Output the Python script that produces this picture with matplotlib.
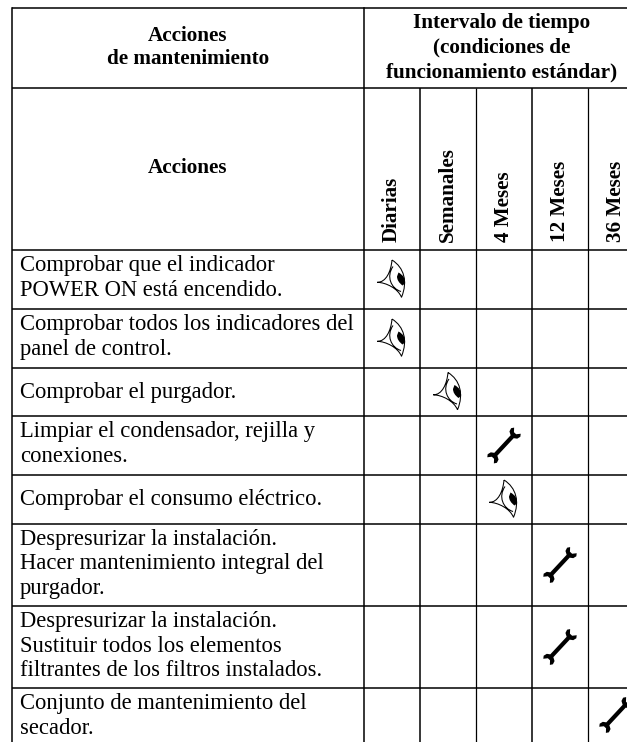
import matplotlib
matplotlib.use("Agg")
import matplotlib.pyplot as plt
from matplotlib.path import Path
from matplotlib.patches import PathPatch
from matplotlib.transforms import Affine2D

header_left = ["Acciones", "de mantenimiento"]
header_right = ["Intervalo de tiempo", "(condiciones de", "funcionamiento estándar)"]
subheader = "Acciones"
intervals = ["Diarias", "Semanales", "4 Meses", "12 Meses", "36 Meses"]
actions = [
    ["Comprobar que el indicador", "POWER ON está encendido."],
    ["Comprobar todos los indicadores del", "panel de control."],
    ["Comprobar el purgador."],
    ["Limpiar el condensador, rejilla y", "conexiones."],
    ["Comprobar el consumo eléctrico."],
    ["Despresurizar la instalación.", "Hacer mantenimiento integral del", "purgador."],
    ["Despresurizar la instalación.", "Sustituir todos los elementos", "filtrantes de los filtros instalados."],
    ["Conjunto de mantenimiento del", "secador."],
]
action_interval = [0, 0, 1, 2, 2, 3, 3, 4]
action_icon = ["eye", "eye", "eye", "wrench", "eye", "wrench", "wrench", "wrench"]

W, H = 627, 742
col_x = [364, 420, 476, 532, 588]
col_w = 56
left_x = 12
row_y = [8, 88, 250, 309, 368, 416, 475, 524, 606, 688]
bottom = 742

fig = plt.figure(figsize=(W / 100, H / 100), dpi=100)
ax = fig.add_axes([0, 0, 1, 1])
ax.set_xlim(0, W)
ax.set_ylim(H, 0)
ax.axis("off")

SERIF = "Liberation Serif"
LW = 1.1
for y in row_y:
    ax.plot([left_x, W], [y, y], color="black", lw=LW, solid_capstyle="butt")
ax.plot([left_x, left_x], [row_y[0], bottom], color="black", lw=LW)
ax.plot([col_x[0], col_x[0]], [row_y[0], bottom], color="black", lw=LW)
for i, x in enumerate(col_x[1:]):
    ax.plot([x, x], [row_y[1], bottom], color="black", lw=LW if i % 2 == 0 else 0.9,
            solid_capstyle="butt")

def multiline(lines, x, y0, step, **kw):
    for i, s in enumerate(lines):
        ax.text(x, y0 + i * step, s, va="baseline", family=SERIF, **kw)

HFS = 15.2
hkw = dict(ha="center", fontsize=HFS, fontweight="bold", color="black")
multiline(header_left, 188, 41, 23.5, **hkw)
multiline(header_right, 502, 28, 24.5, **hkw)
ax.text(188, 173, subheader, ha="center", va="baseline", family=SERIF,
        fontsize=HFS, fontweight="bold")
for x, s in zip(col_x, intervals):
    ax.text(x + 28, 242, s, rotation=90, ha="center", va="bottom", family=SERIF,
            fontsize=HFS, fontweight="bold", rotation_mode="default")

EYE = Path(
    [(-14.7, 2.8), (-6, 3), (-1, -8), (0, -19.5),
     (0, -19.5), (12, -12), (16, 2), (9.5, 17.8),
     (9.5, 17.8), (6, 9), (-6, 3), (-14.7, 2.8),
     (1, -13), (-6, -3), (-1, 9), (9, 12)],
    [Path.MOVETO, Path.CURVE4, Path.CURVE4, Path.CURVE4,
     Path.MOVETO, Path.CURVE4, Path.CURVE4, Path.CURVE4,
     Path.MOVETO, Path.CURVE4, Path.CURVE4, Path.CURVE4,
     Path.MOVETO, Path.CURVE4, Path.CURVE4, Path.CURVE4])
PUPIL = Path(
    [(6.5, -7), (14, -3), (13, 4), (10.5, 6), (5, 2), (5, -3), (6.5, -7), (6.5, -7)],
    [Path.MOVETO, Path.CURVE3, Path.CURVE3, Path.LINETO,
     Path.CURVE3, Path.CURVE3, Path.LINETO, Path.CLOSEPOLY])
WRENCH = Path(
    [(-12, -2.1), (12, -2.1), (14, -5.6), (17.5, -6.6), (20, -4.8), (16.5, -1.8),
     (16.5, 1.2), (20, 4.2), (17.5, 6), (14, 5), (12, 2.1),
     (-12, 2.1), (-14, 5.6), (-17.5, 6.6), (-20, 4.8), (-16.5, 1.8),
     (-16.5, -1.2), (-20, -4.2), (-17.5, -6), (-14, -5), (-12, -2.1)],
    closed=False)

for lines, col, icon, top, bot in zip(actions, action_interval, action_icon, row_y[2:], row_y[3:] + [bottom]):
    n = len(lines)
    mid = (top + bot) / 2
    first = top + 21 if n > 1 else mid + 6
    multiline(lines, 20, first, 24.5, fontsize=16.3, color="black")
    cx = col_x[col] + col_w / 2
    t = Affine2D().translate(cx, mid) + ax.transData
    if icon == "eye":
        ax.add_patch(PathPatch(EYE, fc="none", ec="black", lw=0.75, transform=t))
        ax.add_patch(PathPatch(PUPIL, fc="black", ec="none", transform=t))
    else:
        tw = Affine2D().rotate_deg(-47).translate(cx, mid) + ax.transData
        ax.add_patch(PathPatch(WRENCH, fc="black", ec="none", transform=tw, clip_on=True))

fig.savefig("out.png", dpi=100, facecolor="white")
